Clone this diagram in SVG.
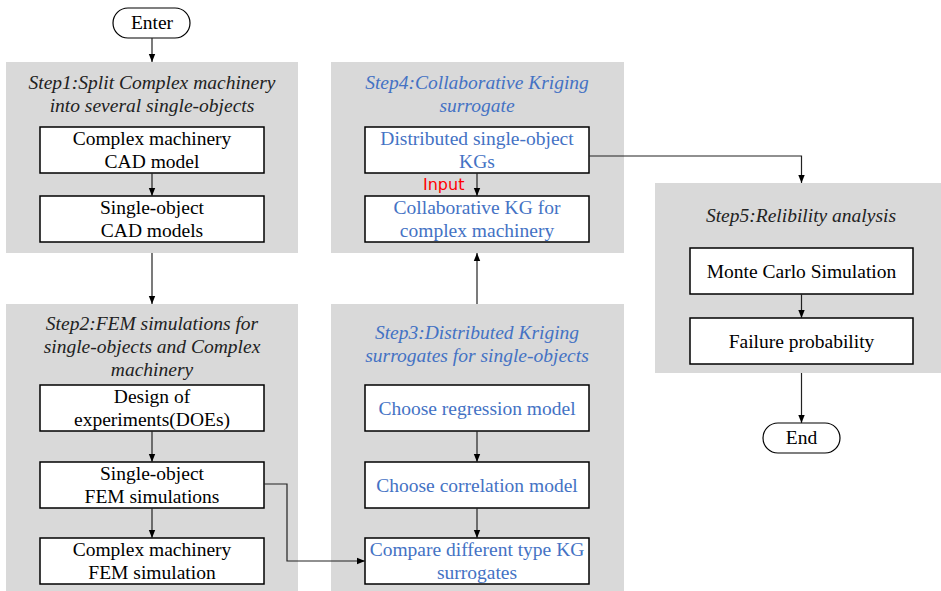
<svg xmlns="http://www.w3.org/2000/svg" width="941" height="591" viewBox="0 0 941 591">
<style>
.panel{fill:#d9d9d9;stroke:none}
.box{fill:#fff;stroke:#000;stroke-width:1.5}
.pill{fill:#fff;stroke:#000;stroke-width:1.2}
.t{font-family:"Liberation Serif","Times New Roman",serif;font-size:19.5px;fill:#000;text-anchor:middle}
.ti{font-family:"Liberation Serif","Times New Roman",serif;font-size:19.5px;font-style:italic;fill:#222;text-anchor:middle}
.blue{fill:#4472c4}
.conn{fill:none;stroke:#222;stroke-width:1.2}
.lbl{font-family:"DejaVu Sans",sans-serif;font-size:16px;fill:#ff0000}
</style>
<defs>
<marker id="ah" markerUnits="userSpaceOnUse" markerWidth="8" markerHeight="8" viewBox="0 0 8 8" refX="8" refY="4" orient="auto">
<path d="M0,0.8 L8,4 L0,7.2 Z" fill="#000"/>
</marker>
</defs>

<g id="step1">
<rect class="panel" x="6" y="62" width="292" height="191"/>
<text class="ti" x="152" y="89">Step1:Split Complex machinery</text>
<text class="ti" x="152" y="112">into several single-objects</text>
</g>
<g id="step2">
<rect class="panel" x="6" y="304" width="292" height="287"/>
<text class="ti" x="152" y="330">Step2:FEM simulations for</text>
<text class="ti" x="152" y="353">single-objects and Complex</text>
<text class="ti" x="152" y="376">machinery</text>
</g>
<g id="step3">
<rect class="panel" x="331" y="304" width="293" height="287"/>
<text class="ti blue" x="477" y="339">Step3:Distributed Kriging</text>
<text class="ti blue" x="477" y="362">surrogates for single-objects</text>
</g>
<g id="step4">
<rect class="panel" x="331" y="62" width="293" height="191"/>
<text class="ti blue" x="477" y="89">Step4:Collaborative Kriging</text>
<text class="ti blue" x="477" y="112">surrogate</text>
</g>
<g id="step5">
<rect class="panel" x="655" y="183" width="286" height="190"/>
<text class="ti" x="801" y="222">Step5:Relibility analysis</text>
</g>

<g id="enter">
<rect class="pill" x="113" y="8" width="77" height="30" rx="15"/>
<text class="t" x="152" y="29">Enter</text>
</g>
<g id="cad">
<rect class="box" x="40" y="127" width="224" height="46"/>
<text class="t" x="152" y="145">Complex machinery</text>
<text class="t" x="152" y="168">CAD model</text>
</g>
<g id="single-cad">
<rect class="box" x="40" y="196" width="224" height="46"/>
<text class="t" x="152" y="214">Single-object</text>
<text class="t" x="152" y="237">CAD models</text>
</g>
<g id="doe">
<rect class="box" x="40" y="385" width="224" height="46"/>
<text class="t" x="152" y="403">Design of</text>
<text class="t" x="152" y="426">experiments(DOEs)</text>
</g>
<g id="single-fem">
<rect class="box" x="40" y="462" width="224" height="46"/>
<text class="t" x="152" y="480">Single-object</text>
<text class="t" x="152" y="503">FEM simulations</text>
</g>
<g id="complex-fem">
<rect class="box" x="40" y="538" width="224" height="46"/>
<text class="t" x="152" y="556">Complex machinery</text>
<text class="t" x="152" y="579">FEM simulation</text>
</g>
<g id="regression">
<rect class="box" x="365" y="385" width="224" height="46"/>
<text class="t blue" x="477" y="415">Choose regression model</text>
</g>
<g id="correlation">
<rect class="box" x="365" y="462" width="224" height="46"/>
<text class="t blue" x="477" y="492">Choose correlation model</text>
</g>
<g id="compare">
<rect class="box" x="365" y="538" width="224" height="46"/>
<text class="t blue" x="477" y="556">Compare different type KG</text>
<text class="t blue" x="477" y="579">surrogates</text>
</g>
<g id="distributed">
<rect class="box" x="365" y="127" width="224" height="46"/>
<text class="t blue" x="477" y="145">Distributed single-object</text>
<text class="t blue" x="477" y="168">KGs</text>
</g>
<g id="collaborative">
<rect class="box" x="365" y="196" width="224" height="46"/>
<text class="t blue" x="477" y="214">Collaborative KG for</text>
<text class="t blue" x="477" y="237">complex machinery</text>
</g>
<g id="monte">
<rect class="box" x="690" y="248" width="223" height="46"/>
<text class="t" x="801.5" y="278">Monte Carlo Simulation</text>
</g>
<g id="failure">
<rect class="box" x="690" y="318" width="223" height="46"/>
<text class="t" x="801.5" y="348">Failure probability</text>
</g>
<g id="end">
<rect class="pill" x="763" y="423" width="77" height="30" rx="15"/>
<text class="t" x="801.5" y="444">End</text>
</g>

<g id="connectors">
<line class="conn" x1="152" y1="38" x2="152" y2="62" marker-end="url(#ah)"/>
<line class="conn" x1="152" y1="173" x2="152" y2="196" marker-end="url(#ah)"/>
<line class="conn" x1="152" y1="253" x2="152" y2="304" marker-end="url(#ah)"/>
<line class="conn" x1="152" y1="431" x2="152" y2="462" marker-end="url(#ah)"/>
<line class="conn" x1="152" y1="508" x2="152" y2="538" marker-end="url(#ah)"/>
<polyline class="conn" points="264,484 287,484 287,561 365,561" marker-end="url(#ah)"/>
<line class="conn" x1="477" y1="431" x2="477" y2="462" marker-end="url(#ah)"/>
<line class="conn" x1="477" y1="508" x2="477" y2="538" marker-end="url(#ah)"/>
<line class="conn" x1="477" y1="304" x2="477" y2="253" marker-end="url(#ah)"/>
<line class="conn" x1="477" y1="173" x2="477" y2="196" marker-end="url(#ah)"/>
<text class="lbl" x="423" y="190">Input</text>
<polyline class="conn" points="589,156 801.5,156 801.5,183" marker-end="url(#ah)"/>
<line class="conn" x1="801.5" y1="294" x2="801.5" y2="318" marker-end="url(#ah)"/>
<line class="conn" x1="801.5" y1="373" x2="801.5" y2="423" marker-end="url(#ah)"/>
</g>
</svg>
